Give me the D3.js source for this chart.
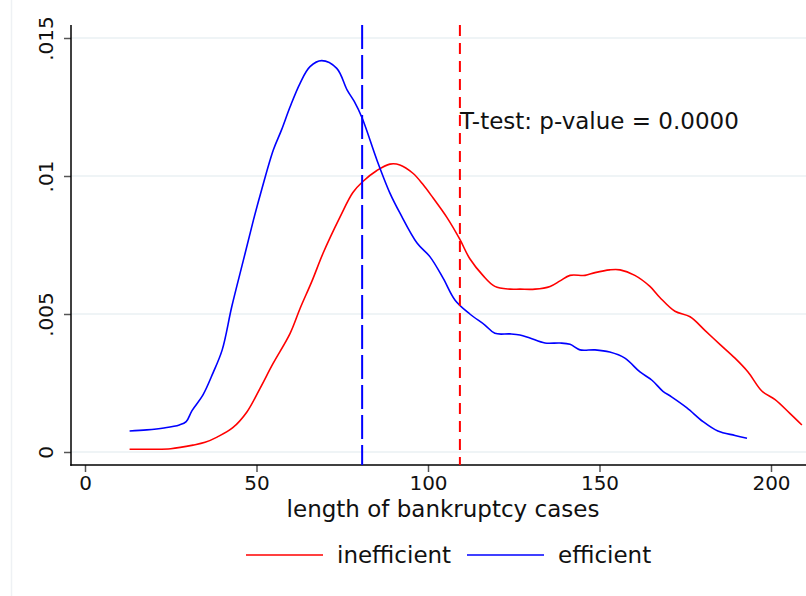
<!DOCTYPE html>
<html>
<head>
<meta charset="utf-8">
<script src="https://cdn.jsdelivr.net/npm/d3@7"></script>
<style>
  body { margin: 0; background: white; }
  text { font-family: "DejaVu Sans", sans-serif; fill: #111; }
</style>
</head>
<body>
<svg></svg>
<script>
var w = 806
var h = 596

// kernel density, efficient cases (blue)
var effDays = [13, 18, 23, 27.5, 29.5, 31.2, 34.4, 37.3, 40, 42.8, 46.2, 49.1, 51.5, 54.9, 57.3, 59.8, 62.7, 65.6, 69, 73.4, 76.4, 78.5, 80.8, 85.1, 88.9, 91.8, 96.8, 100.6, 104.4, 107.9, 112.2, 116.6, 119.5, 123.9, 126.8, 129.7, 134.1, 138.5, 141.4, 144.3, 148.7, 153, 157.4, 161.8, 165.3, 168.5, 171, 175.5, 180.2, 184.5, 189.5, 193]
var effDens = [.00076, .0008, .00087, .00098, .0011, .0015, .00207, .00286, .0037, .00527, .00696, .0084, .0095, .01094, .01167, .01251, .01336, .01396, .01418, .0139, .01312, .0127, .0121, .01058, .00938, .00866, .00757, .00707, .0063, .0055, .005, .0046, .0043, .00428, .00424, .00413, .00395, .00395, .0039, .0037, .0037, .00362, .0034, .0029, .0026, .0022, .002, .0016, .0011, .00076, .0006, .0005]

// kernel density, inefficient cases (red)
var ineffDays = [13, 20, 25, 31.5, 35, 38.5, 43, 47.2, 51, 54.8, 59.8, 62.7, 66.2, 69.4, 74.3, 78.1, 81, 85.1, 88.9, 91.8, 95.6, 98.5, 101.5, 105.5, 109.3, 112.2, 116, 119.5, 123.9, 126.8, 131.2, 135.6, 138.5, 141.4, 145.8, 148.7, 153, 156, 160.3, 164.7, 167.6, 172, 176.4, 180.8, 185.1, 189.5, 193.3, 197.4, 201.2, 205.5, 209]
var ineffDens = [.0001, .0001, .00012, .00025, .00035, .00054, .00087, .00145, .0023, .0032, .0043, .0052, .0062, .0072, .0085, .0094, .0098, .0102, .01043, .0104, .0101, .0097, .0092, .0085, .0077, .007, .0064, .006, .0059, .0059, .0059, .006, .0062, .0064, .0064, .0065, .0066, .0066, .0064, .006, .0056, .0051, .0049, .0044, .0039, .0034, .0029, .0022, .0019, .0014, .00098]

// group means
var effMean = 80.8
var ineffMean = 109.3

var xTicks = [0, 50, 100, 150, 200]
var yTicks = [0, .005, .01, .015]
var yTickLabels = ["0", ".005", ".01", ".015"]

var seriesNames = ["inefficient", "efficient"]
var seriesColors = ["#ff0000", "#0000ff"]

var plotLeft = 71
var plotRight = 806
var plotTop = 25
var plotBottom = 465

var x = d3.scaleLinear().domain([0, 200]).range([85, 771])
var y = d3.scaleLinear().domain([0, .015]).range([452, 38])

var svg = d3.select("svg")
	.attr("width", w)
	.attr("height", h)
	.style("background-color", "white")

// faint outer graph edge
svg.append("line")
	.attr("x1", 11.5).attr("x2", 11.5)
	.attr("y1", 0).attr("y2", h)
	.attr("stroke", "#eef1f4")
	.attr("stroke-width", 1.5)

svg.append("clipPath").attr("id", "plotClip")
	.append("rect")
	.attr("x", plotLeft).attr("y", plotTop)
	.attr("width", plotRight - plotLeft).attr("height", plotBottom - plotTop)

// gridlines
svg.append("g").selectAll("line")
	.data(yTicks)
	.join("line")
	.attr("x1", plotLeft).attr("x2", plotRight)
	.attr("y1", function(d) { return y(d) })
	.attr("y2", function(d) { return y(d) })
	.attr("stroke", "#eaf0f3")
	.attr("stroke-width", 1.5)

// axes
var yAxis = d3.axisLeft(y)
	.tickValues(yTicks)
	.tickFormat(function(d, i) { return yTickLabels[i] })
	.tickSize(7)

var gy = svg.append("g")
	.attr("transform", "translate(" + plotLeft + ",0)")
	.call(yAxis)
gy.select(".domain").remove()
gy.selectAll(".tick line").attr("stroke", "#555").attr("stroke-width", 1.5)
gy.selectAll(".tick text")
	.attr("font-size", 20)
	.attr("font-family", "DejaVu Sans")
	.attr("fill", "#111")
	.attr("transform", "rotate(-90)")
	.attr("x", 0)
	.attr("y", -18)
	.attr("dy", "0")
	.attr("text-anchor", "middle")

var xAxis = d3.axisBottom(x)
	.tickValues(xTicks)
	.tickFormat(d3.format("d"))
	.tickSize(7)
	.tickPadding(4)

var gx = svg.append("g")
	.attr("transform", "translate(0," + plotBottom + ")")
	.call(xAxis)
gx.select(".domain").remove()
gx.selectAll(".tick line").attr("stroke", "#555").attr("stroke-width", 1.5)
gx.selectAll(".tick text")
	.attr("font-size", 20)
	.attr("font-family", "DejaVu Sans")
	.attr("fill", "#111")

svg.append("line")
	.attr("x1", plotLeft).attr("x2", plotLeft)
	.attr("y1", plotTop).attr("y2", plotBottom + 0.75)
	.attr("stroke", "black").attr("stroke-width", 1.5)
svg.append("line")
	.attr("x1", plotLeft - 0.75).attr("x2", plotRight)
	.attr("y1", plotBottom).attr("y2", plotBottom)
	.attr("stroke", "black").attr("stroke-width", 1.5)

// density curves
var lineMaker = d3.line()
	.x(function(d) { return x(d[0]) })
	.y(function(d) { return y(d[1]) })
	.curve(d3.curveCatmullRom.alpha(0.5))

var plot = svg.append("g").attr("clip-path", "url(#plotClip)")

plot.append("path")
	.attr("d", lineMaker(d3.zip(ineffDays, ineffDens)))
	.attr("fill", "none")
	.attr("stroke", seriesColors[0])
	.attr("stroke-width", 1.6)

plot.append("path")
	.attr("d", lineMaker(d3.zip(effDays, effDens)))
	.attr("fill", "none")
	.attr("stroke", seriesColors[1])
	.attr("stroke-width", 1.6)

// mean lines
plot.append("line")
	.attr("x1", x(effMean)).attr("x2", x(effMean))
	.attr("y1", plotTop).attr("y2", plotBottom)
	.attr("stroke", seriesColors[1])
	.attr("stroke-width", 2)
	.attr("stroke-dasharray", "24,6")

plot.append("line")
	.attr("x1", x(ineffMean)).attr("x2", x(ineffMean))
	.attr("y1", plotTop).attr("y2", plotBottom)
	.attr("stroke", seriesColors[0])
	.attr("stroke-width", 2)
	.attr("stroke-dasharray", "11,7")

svg.append("text")
	.attr("x", x(ineffMean))
	.attr("y", 129)
	.attr("font-size", 23)
	.text("T-test: p-value = 0.0000")

// axis title
svg.append("text")
	.attr("x", 443)
	.attr("y", 517)
	.attr("text-anchor", "middle")
	.attr("font-size", 23)
	.text("length of bankruptcy cases")

// legend
var legendX = [246, 467]
var legend = svg.append("g").selectAll("g")
	.data(seriesNames)
	.join("g")
	.attr("transform", function(d, i) { return "translate(" + legendX[i] + ",555)" })

legend.append("line")
	.attr("x1", 0).attr("x2", 77)
	.attr("y1", 0).attr("y2", 0)
	.attr("stroke", function(d, i) { return seriesColors[i] })
	.attr("stroke-width", 1.6)

legend.append("text")
	.attr("x", 91)
	.attr("y", 8)
	.attr("font-size", 23)
	.text(function(d) { return d })
</script>
</body>
</html>
